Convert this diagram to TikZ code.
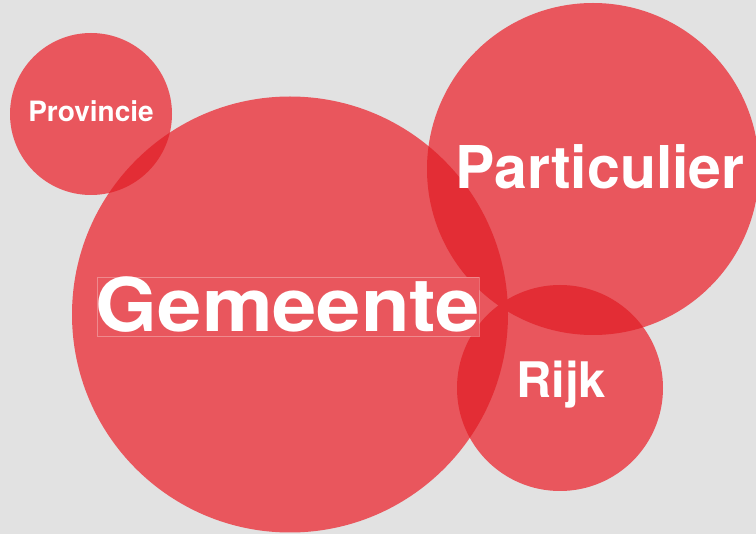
\documentclass[tikz,border=0pt]{standalone}
\usepackage{fontspec}
\usepackage{graphicx}
\setmainfont{TeX Gyre Heros}
\definecolor{bg}{RGB}{226,226,226}
\definecolor{light}{RGB}{233,86,93}
\definecolor{dark}{RGB}{227,45,53}
\begin{document}
\begin{tikzpicture}[x=1pt,y=-1pt,
  lbl/.style={text=white,font=\bfseries,inner sep=0pt},
  bubble/.style={fill=light}]
\fill[bg] (0,0) rectangle (756,534);
\useasboundingbox (0,0) rectangle (756,534);
% circles
\fill[bubble] (91,114) circle (81);
\fill[bubble] (290,314.5) circle (218);
\fill[bubble] (593,169) circle (166);
\fill[bubble] (560,388) circle (103);
% overlaps
\begin{scope}
\clip (91,114) circle (81);
\fill[dark] (290,314.5) circle (218);
\end{scope}
\begin{scope}
\clip (290,314.5) circle (218);
\fill[dark] (593,169) circle (166);
\fill[dark] (560,388) circle (103);
\end{scope}
\begin{scope}
\clip (593,169) circle (166);
\fill[dark] (560,388) circle (103);
\end{scope}
% labels
\node[lbl,font=\bfseries\fontsize{28}{30}\selectfont] (prov) at (91,111) {Provincie};
\node[lbl,font=\bfseries\fontsize{59}{62}\selectfont] (part) at (600,167) {Particulier};
\node[lbl,font=\bfseries\fontsize{49}{52}\selectfont] (rijk) at (561,385) {Rijk};
\fill[light] (97,277) rectangle (479,336);
\draw[white,opacity=0.3,line width=0.6pt] (97,277) rectangle (479,336);
\node[lbl,font=\bfseries\fontsize{74}{77}\selectfont] (gem) at (288,305) {\scalebox{1.075}[1]{Gemeente}};
\end{tikzpicture}
\end{document}
